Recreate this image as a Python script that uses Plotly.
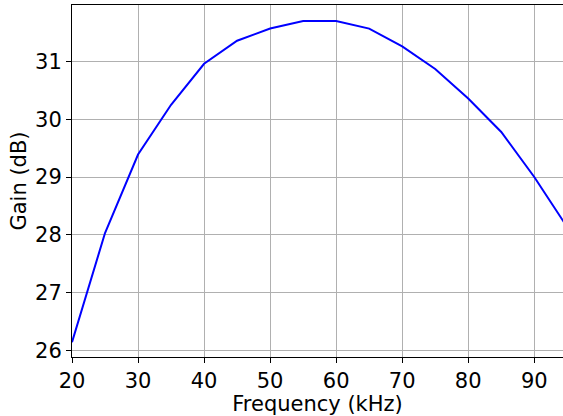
import plotly.graph_objects as go

freq_khz = [20, 25, 30, 35, 40, 45, 50, 55, 60, 65, 70, 75, 80, 85, 90, 95]
gain_db = [26.14, 28.03, 29.39, 30.25, 30.96, 31.36, 31.57, 31.70, 31.70, 31.57,
           31.26, 30.87, 30.36, 29.78, 29.00, 28.13]
x_ticks = [20, 30, 40, 50, 60, 70, 80, 90]
y_ticks = [26, 27, 28, 29, 30, 31]

fig = go.Figure()
fig.add_trace(go.Scatter(x=freq_khz, y=gain_db, mode="lines",
                         line=dict(color="#0000ff", width=2)))

font = dict(family="DejaVu Sans", size=21, color="black")
fig.update_layout(
    width=563, height=416,
    margin=dict(l=72, r=0, t=5, b=59),
    paper_bgcolor="white", plot_bgcolor="white",
    showlegend=False,
    font=font,
)
fig.update_xaxes(
    range=[20, 94.35], tickvals=x_ticks, ticks="outside", ticklen=5,
    tickwidth=1, tickcolor="black",
    showline=True, linecolor="black", linewidth=1, mirror=True,
    showgrid=True, gridcolor="#b0b0b0", gridwidth=1, zeroline=False,
    title=dict(text="Frequency (kHz)", font=font, standoff=0),
    tickfont=font,
)
fig.update_yaxes(
    range=[25.884, 31.978], tickvals=y_ticks, ticks="outside", ticklen=5,
    tickwidth=1, tickcolor="black",
    showline=True, linecolor="black", linewidth=1,
    showgrid=True, gridcolor="#b0b0b0", gridwidth=1, zeroline=False,
    title=dict(text="Gain (dB)", font=font, standoff=2),
    tickfont=font,
)
fig.write_html("out.html")
